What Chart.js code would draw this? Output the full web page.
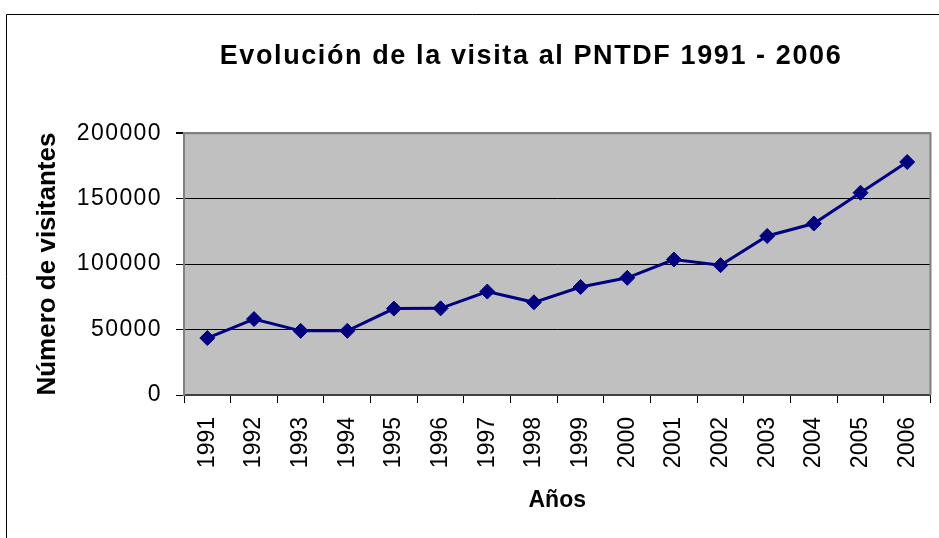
<!DOCTYPE html>
<html>
<head>
<meta charset="utf-8">
<script src="https://cdn.jsdelivr.net/npm/chart.js@4"></script>
<style>
  html, body { margin: 0; padding: 0; background: #fff; }
  #wrap { position: relative; width: 939px; height: 538px; }
</style>
</head>
<body>
<div id="wrap"><canvas id="c" width="939" height="538"></canvas></div>
<script>
const years = ['1991','1992','1993','1994','1995','1996','1997','1998','1999','2000','2001','2002','2003','2004','2005','2006'];
const visitors = [43500, 58000, 49000, 49000, 66000, 66200, 79000, 70800, 82500, 89500, 103500, 99200, 121500, 131000, 154500, 178000];
const yTicks = [0, 50000, 100000, 150000, 200000];

const chartTitle = 'Evolución de la visita al PNTDF 1991 - 2006';
const yTitle = 'Número de visitantes';
const xTitle = 'Años';
const FONT = "'Liberation Sans', Arial, sans-serif";

const framePlugin = {
  id: 'frame',
  afterLayout(chart) {
    const tb = chart.titleBlock;
    if (tb) {
      const cx = 531;
      tb.left = cx - 400;
      tb.right = cx + 400;
      if (!tb._ls) {
        const orig = tb.draw;
        tb.draw = function (...a) {
          const c = this.ctx; c.save(); c.letterSpacing = '1.6px'; orig.apply(this, a); c.restore();
        };
        tb._ls = true;
      }
    }
    const ys = chart.scales.y;
    if (ys && !ys._ls) {
      const origL = ys.drawLabels;
      ys.drawLabels = function (...a) {
        const c = this.ctx; c.save(); c.letterSpacing = '1.4px'; origL.apply(this, a); c.restore();
      };
      ys._ls = true;
    }
  },
  beforeDraw(chart) {
    const ctx = chart.ctx;
    const a = chart.chartArea;
    ctx.save();
    ctx.fillStyle = '#ffffff';
    ctx.fillRect(0, 0, chart.width, chart.height);
    ctx.strokeStyle = '#000000';
    ctx.lineWidth = 1;
    ctx.beginPath();
    ctx.moveTo(6.5, chart.height);
    ctx.lineTo(6.5, 14.5);
    ctx.lineTo(chart.width, 14.5);
    ctx.stroke();
    ctx.fillStyle = '#c0c0c0';
    ctx.fillRect(a.left, a.top, a.right - a.left, a.bottom - a.top);
    ctx.restore();
  },
  beforeDatasetsDraw(chart) {
    const ctx = chart.ctx;
    const a = chart.chartArea;
    ctx.save();
    ctx.strokeStyle = '#808080';
    ctx.lineWidth = 2;
    ctx.beginPath();
    ctx.moveTo(a.left, a.top);
    ctx.lineTo(a.right, a.top);
    ctx.lineTo(a.right, a.bottom);
    ctx.stroke();
    ctx.restore();
  }
};

new Chart(document.getElementById('c'), {
  type: 'line',
  data: {
    labels: years,
    datasets: [{
      data: visitors,
      borderColor: '#000080',
      backgroundColor: '#000080',
      borderWidth: 3,
      pointStyle: 'rectRot',
      pointRadius: 7.5,
      pointHoverRadius: 7.5,
      pointBorderWidth: 1,
      pointBackgroundColor: '#000080',
      pointBorderColor: '#000080',
      tension: 0,
      fill: false
    }]
  },
  options: {
    responsive: false,
    animation: false,
    layout: { padding: { left: 0, right: 6, top: 0, bottom: 0 } },
    plugins: {
      legend: { display: false },
      tooltip: { enabled: false },
      title: {
        display: true,
        text: chartTitle,
        color: '#000',
        font: { family: FONT, size: 27, weight: 'bold' },
        padding: { top: 40.8, bottom: 60 }
      }
    },
    scales: {
      x: {
        type: 'category',
        offset: true,
        grid: {
          offset: true,
          drawOnChartArea: false,
          drawTicks: true,
          tickLength: 8,
          tickColor: '#000',
          lineWidth: 1
        },
        border: { display: true, color: '#404040', width: 2 },
        ticks: {
          color: '#000',
          font: { family: FONT, size: 23 },
          minRotation: 90,
          maxRotation: 90,
          autoSkip: false,
          padding: 14
        },
        title: {
          display: true,
          text: xTitle,
          color: '#000',
          font: { family: FONT, size: 23, weight: 'bold' },
          padding: { top: 0, bottom: 24 }
        },
        afterFit(scale) { scale.height = 143; scale.paddingLeft = 0; scale.paddingRight = 0; }
      },
      y: {
        min: 0,
        max: 200000,
        afterBuildTicks(scale) { scale.ticks = yTicks.map(v => ({ value: v })); },
        grid: {
          color: (c) => (c.tick && c.tick.value === 200000) ? '#808080' : (c.tick && c.tick.value === 0 ? 'rgba(0,0,0,0)' : '#000'),
          lineWidth: (c) => (c.tick && c.tick.value === 200000) ? 2 : 1,
          drawTicks: true,
          tickLength: 8,
          tickColor: '#000'
        },
        border: { display: true, color: '#808080', width: 2 },
        ticks: {
          color: '#000',
          font: { family: FONT, size: 23 },
          padding: 14,
          callback: (v) => String(v)
        },
        title: {
          display: true,
          text: yTitle,
          color: '#000',
          font: { family: FONT, size: 26, weight: 'bold' },
          padding: { top: 32.4, bottom: 0 }
        },
        afterFit(scale) { scale.width = 184; }
      }
    }
  },
  plugins: [framePlugin]
});
</script>
</body>
</html>
